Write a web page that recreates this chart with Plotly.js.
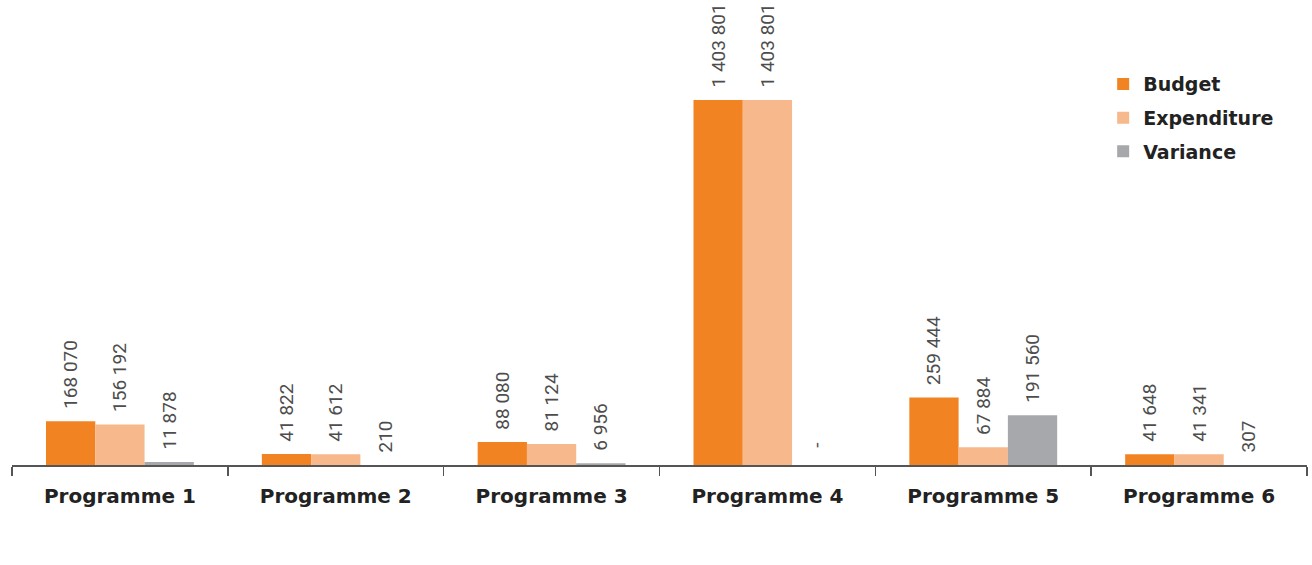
<!DOCTYPE html>
<html>
<head>
<meta charset="utf-8">
<script src="https://cdn.plot.ly/plotly-3.0.1.min.js"></script>
<style>html,body{margin:0;padding:0;background:#fff;}#chart{width:1312px;height:565px;}</style>
</head>
<body>
<div id="chart"></div>
<script>
const categories = ["Programme 1", "Programme 2", "Programme 3", "Programme 4", "Programme 5", "Programme 6"];
const budget = [168070, 41822, 88080, 1403801, 259444, 41648];
const expenditure = [156192, 41612, 81124, 1403801, 67884, 41341];
const variance = [11878, 210, 6956, 0, 191560, 307];

function fmt(v) {
  if (v === 0) return "\u00a0\u00a0\u00a0-";
  return "\u00a0\u00a0" + String(v).replace(/\B(?=(\d{3})+(?!\d))/g, " ");
}

const labelFont = {family: "Liberation Sans Narrow, Roboto, sans-serif", size: 19, color: "#4d4d4d"};

function mk(name, vals, color, group) {
  return {
    type: "bar", name: name, x: categories, y: vals,
    marker: {color: color},
    text: vals.map(fmt), textposition: "outside", textangle: -90,
    textfont: labelFont, cliponaxis: false, constraintext: "none",
    legendgroup: group, hoverinfo: "x+y"
  };
}

const data = [
  mk("Budget", budget, "#F28323", "a"),
  mk("Expenditure", expenditure, "#F7B98B", "b"),
  mk("Variance", variance, "#A7A8AB", "c")
];

const layout = {
  width: 1312, height: 565,
  margin: {l: 12, r: 5, t: 0, b: 100},
  paper_bgcolor: "#ffffff", plot_bgcolor: "#ffffff",
  barmode: "group", bargap: 0.315, bargroupgap: 0,
  showlegend: true,
  legend: {x: 0.8426, y: 0.86, xanchor: "left", yanchor: "top",
    font: {family: "DejaVu Sans, sans-serif", size: 19, color: "#222222", weight: "bold"},
    traceorder: "grouped", tracegroupgap: 6, bgcolor: "rgba(0,0,0,0)"},
  xaxis: {
    type: "category", showline: true, linecolor: "#555555", linewidth: 1.5,
    ticks: "outside", tickson: "boundaries", ticklen: 9, tickcolor: "#555555", tickwidth: 1.5,
    showgrid: false, zeroline: false,
    tickfont: {family: "DejaVu Sans, sans-serif", size: 20, color: "#222222", weight: "bold"},
    ticklabelstandoff: 12
  },
  yaxis: {range: [0, 1788000], visible: false, showgrid: false, zeroline: false, fixedrange: true}
};

Plotly.newPlot("chart", data, layout, {displayModeBar: false, staticPlot: true});
</script>
</body>
</html>
